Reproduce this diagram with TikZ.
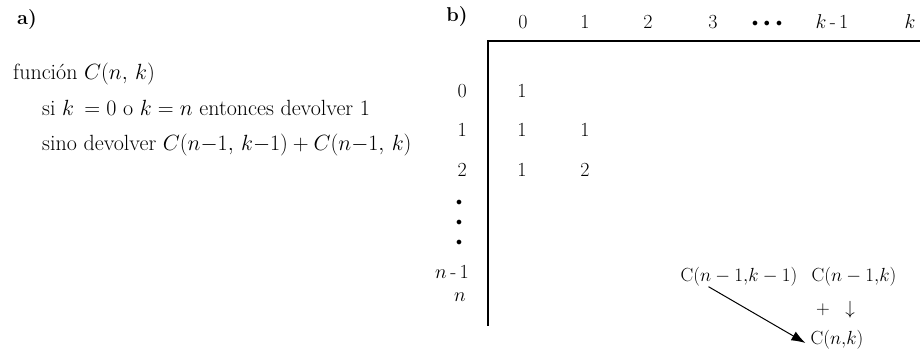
\RequirePackage{fix-cm}
\documentclass[tikz,border=0pt]{standalone}
\usepackage{amsmath}
\usetikzlibrary{arrows.meta}
\begin{document}
\begin{tikzpicture}[x=1pt,y=-1pt,
  lbl/.style={font=\fontsize{20}{24}\selectfont\bfseries, inner sep=0},
  code/.style={font=\fontsize{22}{27}\selectfont, anchor=base west, inner sep=0},
  hdr/.style={font=\fontsize{20}{24}\selectfont, inner sep=0},
  dots/.style={font=\fontsize{12}{14}\selectfont, inner sep=0},
  rowlbl/.style={font=\fontsize{20}{24}\selectfont, inner sep=0, anchor=east},
  cell/.style={font=\fontsize{20}{24}\selectfont, inner sep=0},
  rec/.style={font=\fontsize{19}{23}\selectfont, inner sep=0},
  tab/.style={line width=1.7pt},
  conn/.style={line width=1pt, -{Latex[length=14pt,width=10pt]}}]
\useasboundingbox (0,0) rectangle (920,354);
% panel a
\node[lbl] (a) at (27,20) {a)};
\node[code] (l1) at (13,79) {función $C(n,\,k)$};
\node[code] (l2) at (42,115) {si $k$\ \,$=0$ o $k=n$ entonces devolver 1};
\node[code] (l3) at (42,150) {sino devolver $C(n{-}1,\,k{-}1)+C(n{-}1,\,k)$};
% panel b
\node[lbl] (b) at (457,17) {b)};
\node[hdr] (h0) at (523,22) {0};
\node[hdr] (h1) at (585,22) {1};
\node[hdr] (h2) at (648,22) {2};
\node[hdr] (h3) at (713,22) {3};
\node[dots] (hd) at (767,24) {$\bullet\;\bullet\;\bullet$};
\node[hdr] (hk1) at (832,22) {$k$\,-\,1};
\node[hdr] (hk) at (910,22) {$k$};
\coordinate (tl) at (488,41);
\coordinate (tr) at (920,41);
\coordinate (bl) at (488,326);
\draw[tab] (tr) -- (tl) -- (bl);
\node[rowlbl] (r0) at (467,91) {0};
\node[rowlbl] (r1) at (467,130) {1};
\node[rowlbl] (r2) at (467,170) {2};
\node[dots] (v1) at (459,203) {$\bullet$};
\node[dots] (v2) at (459,223) {$\bullet$};
\node[dots] (v3) at (459,243) {$\bullet$};
\node[rowlbl] (rn1) at (469,272) {$n$\,-\,1};
\node[rowlbl] (rn) at (466,297) {$n$};
\node[cell] (c00) at (522,91) {1};
\node[cell] (c10) at (522,130) {1};
\node[cell] (c11) at (585,130) {1};
\node[cell] (c20) at (522,170) {1};
\node[cell] (c21) at (585,170) {2};
% recurrence
\node[rec] (ca) at (739,277) {$\mathrm{C}(n-1{,}k-1)$};
\node[rec] (cb) at (854,277) {$\mathrm{C}(n-1{,}k)$};
\node[rec] (plus) at (823,310) {$+$};
\node[rec] (down) at (850,310) {$\downarrow$};
\node[rec] (cc) at (837,340) {$\mathrm{C}(n{,}k)$};
\draw[conn] ([xshift=28pt]ca.south west) -- ([xshift=-5pt,yshift=-3pt]cc.west);
\end{tikzpicture}
\end{document}
